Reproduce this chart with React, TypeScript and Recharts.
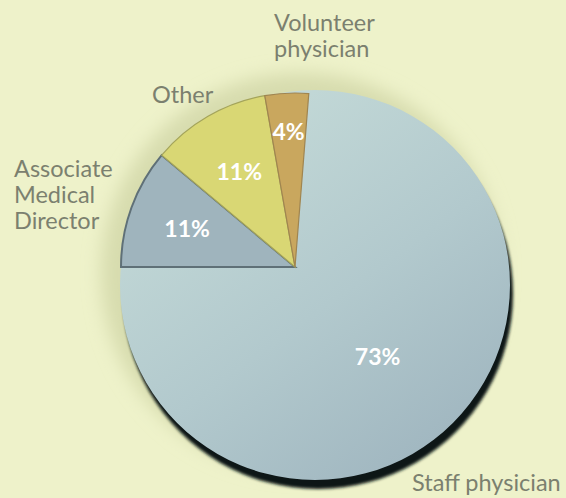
import React from 'react';
import { PieChart, Pie, Cell } from 'recharts';

// Survey: role of respondents (percent)
const categories = ['Staff physician', 'Associate\nMedical\nDirector', 'Other', 'Volunteer\nphysician'];
const shares = [73, 11, 11, 4];

const sliceColors = ['url(#staffGrad)', '#9fb4bd', '#d9d774', '#c9a75e'];
const sliceStrokes = ['none', '#5f7077', '#a4a45a', '#a08550'];

// where the category names sit (left x, first baseline)
const nameLayout = [
  { x: 412, y: 491 },
  { x: 14, y: 177 },
  { x: 152, y: 103 },
  { x: 274, y: 31 },
];
const pctRadius = [0.7, 0.66, 0.64, 0.78];

const W = 566;
const H = 498;
const RAD = Math.PI / 180;

const data = categories.map((name, i) => ({ name, value: shares[i] }));
const total = shares.reduce((a, b) => a + b, 0);
// the boundary between staff and associate is horizontal (9 o'clock)
const startAngle = 180 + (shares[0] / total) * 360 - 360;

const renderLabel = (props: any) => {
  const { cx, cy, midAngle, outerRadius, index, value, name } = props;
  const r = outerRadius * pctRadius[index];
  const x = cx + r * Math.cos(-midAngle * RAD);
  const y = cy + r * Math.sin(-midAngle * RAD);
  const lines = String(name).split('\n');
  const pos = nameLayout[index];
  return (
    <g>
      <text
        x={x}
        y={y}
        textAnchor="middle"
        dominantBaseline="central"
        fill="#ffffff"
        fontSize={23}
        fontWeight={700}
        fontFamily="Lato, 'Open Sans', sans-serif"
      >
        {value}%
      </text>
      <text fill="#7b806f" fontSize={23.5} fontFamily="Lato, 'Open Sans', sans-serif">
        {lines.map((l, i) => (
          <tspan key={i} x={pos.x} y={pos.y + i * 26}>
            {l}
          </tspan>
        ))}
      </text>
    </g>
  );
};

export default function App() {
  return (
    <div style={{ position: 'absolute', left: 0, top: 0, width: W, height: H, background: '#eef2ca', overflow: 'hidden' }}>
      <svg width={0} height={0} style={{ position: 'absolute' }}>
        <defs>
          <linearGradient id="staffGrad" gradientUnits="userSpaceOnUse" x1={180} y1={110} x2={440} y2={470}>
            <stop offset="0%" stopColor="#c6dcd9" />
            <stop offset="55%" stopColor="#b2c9cd" />
            <stop offset="100%" stopColor="#9fb5bf" />
          </linearGradient>
          <filter id="shadowBlur" x="-10%" y="-10%" width="120%" height="120%">
            <feGaussianBlur stdDeviation="1.6" />
          </filter>
          <filter id="haloBlur" x="-20%" y="-20%" width="140%" height="140%">
            <feGaussianBlur stdDeviation="9" />
          </filter>
        </defs>
      </svg>
      <PieChart width={W} height={H}>
        <Pie
          data={[{ value: 1 }]}
          dataKey="value"
          cx={296}
          cy={268}
          outerRadius={200}
          fill="#d7dcae"
          stroke="none"
          style={{ filter: 'url(#haloBlur)' }}
          isAnimationActive={false}
        />
        <Pie
          data={[{ value: 1 }]}
          dataKey="value"
          cx={313}
          cy={289}
          outerRadius={195}
          fill="#0f1717"
          stroke="none"
          style={{ filter: 'url(#shadowBlur)' }}
          isAnimationActive={false}
        />
        <Pie
          data={[{ value: 1 }]}
          dataKey="value"
          cx={310}
          cy={280}
          outerRadius={195}
          fill="url(#staffGrad)"
          stroke="none"
          isAnimationActive={false}
        />
        <Pie
          data={data}
          dataKey="value"
          nameKey="name"
          cx={290}
          cy={262}
          outerRadius={174}
          startAngle={startAngle}
          endAngle={startAngle - 360}
          label={renderLabel}
          labelLine={false}
          isAnimationActive={false}
        >
          {data.map((d, i) => (
            <Cell key={d.name} fill={sliceColors[i]} stroke={sliceStrokes[i]} strokeWidth={i === 1 ? 2 : 1.2} />
          ))}
        </Pie>
      </PieChart>
    </div>
  );
}
